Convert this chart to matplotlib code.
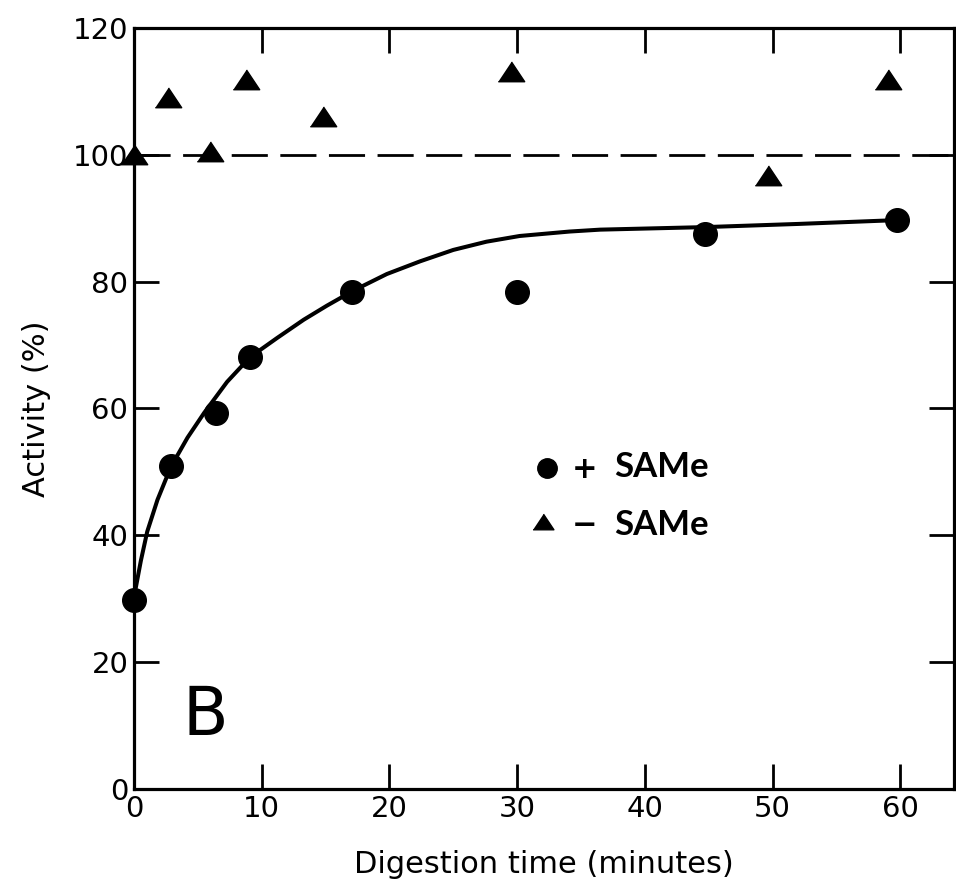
import matplotlib.pyplot as plt

# digestion time (minutes) and activity (%)
time_plus = [0, 2.9, 6.4, 9.1, 17.1, 30, 44.7, 59.7]
act_plus = [29.8, 50.9, 59.3, 68.1, 78.4, 78.4, 87.5, 89.7]

time_minus = [0, 2.7, 6, 8.75, 14.8, 29.5, 49.6, 59]
act_minus = [100, 109, 100.5, 111.8, 106, 113, 96.7, 111.8]

# hand-drawn fit curve
curve_t = [0, 0.55, 1.05, 1.85, 2.9, 4.2, 5.5, 7.3, 9.1, 11.2, 13.3, 15.1, 17.2,
           19.8, 22.4, 25, 27.6, 30.2, 34.1, 36.5, 44.7, 52, 59.7]
curve_a = [30.1, 36.0, 40.6, 45.6, 50.8, 55.4, 59.3, 64.2, 68.1, 71.1, 74.0, 76.2, 78.6,
           81.2, 83.2, 85, 86.3, 87.2, 87.9, 88.2, 88.6, 89.1, 89.7]

xticks = [0, 10, 20, 30, 40, 50, 60]
yticks = [0, 20, 40, 60, 80, 100, 120]

tri = [(-1, -0.7), (1, -0.7), (0, 0.8)]


def main():
    fig = plt.figure(figsize=(9.56, 8.88), dpi=100)
    ax = fig.add_axes([0.14, 0.1115, 0.858, 0.857])

    ax.plot(curve_t, curve_a, color='black', lw=2.9, zorder=2,
            solid_capstyle='round', solid_joinstyle='round')
    ax.axhline(100, color='black', lw=2, dashes=(13, 4.5), zorder=1)
    ax.plot(time_plus, act_plus, 'o', color='black', ms=17, clip_on=False, zorder=3)
    ax.plot(time_minus, act_minus, ls='none', marker=tri, color='black', ms=19,
            clip_on=False, zorder=3)

    ax.set_xlim(0, 64.2)
    ax.set_ylim(0, 120)
    ax.set_xticks(xticks)
    ax.set_yticks(yticks)
    ax.tick_params(direction='in', length=18, width=2, labelsize=21, pad=4,
                   top=True, right=True)
    for s in ax.spines.values():
        s.set_linewidth(2.3)

    ax.set_xlabel('Digestion time (minutes)', fontsize=22, labelpad=20)
    ax.set_ylabel('Activity (%)', fontsize=22, labelpad=16)

    ax.text(5.6, 11.5, 'B', fontsize=48, ha='center', va='center')

    # legend drawn as in the figure
    ax.plot([32.3], [50.6], 'o', color='black', ms=14)
    ax.plot([32.0], [42.1], ls='none', marker=tri, color='black', ms=15)
    ax.text(35.3, 50.3, '+', fontsize=22, ha='center', va='center', fontweight='bold')
    ax.text(35.3, 41.6, '\u2212', fontsize=22, ha='center', va='center', fontweight='bold')
    ax.text(37.6, 50.8, 'SAMe', fontsize=25, fontweight='bold', family='Lato',
            ha='left', va='center')
    ax.text(37.6, 41.6, 'SAMe', fontsize=25, fontweight='bold', family='Lato',
            ha='left', va='center')

    fig.savefig('out.png', dpi=100)


if __name__ == '__main__':
    main()
